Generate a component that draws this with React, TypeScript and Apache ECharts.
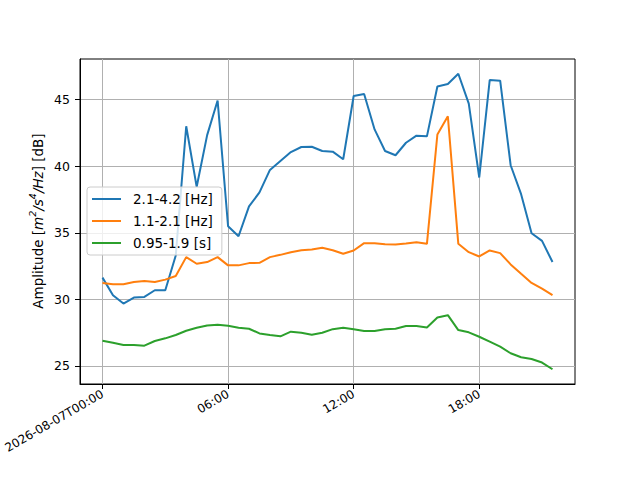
import React, { useEffect, useRef } from "react";
import * as echarts from "echarts";

// sample times (hours since 2026-08-07T00:00), every 30 min
const hours = [
  0, 0.5, 1, 1.5, 2, 2.5, 3, 3.5, 4, 4.5, 5, 5.5, 6, 6.5, 7, 7.5, 8, 8.5, 9, 9.5,
  10, 10.5, 11, 11.5, 12, 12.5, 13, 13.5, 14, 14.5, 15, 15.5, 16, 16.5, 17, 17.5,
  18, 18.5, 19, 19.5, 20, 20.5, 21, 21.5,
];

const seriesNames = ["2.1-4.2 [Hz]", "1.1-2.1 [Hz]", "0.95-1.9 [s]"];

const band1 = [
  31.63, 30.31, 29.68, 30.13, 30.18, 30.68, 30.68, 33.29, 43.0, 38.45, 42.33, 44.93,
  35.49, 34.74, 36.98, 38.03, 39.72, 40.39, 41.06, 41.44, 41.46, 41.14, 41.09, 40.52,
  45.27, 45.42, 42.76, 41.14, 40.82, 41.76, 42.29, 42.24, 45.99, 46.17, 46.94, 44.7,
  39.15, 46.47, 46.42, 40.07, 37.9, 34.96, 34.39, 32.8,
];

const band2 = [
  31.23, 31.13, 31.13, 31.3, 31.38, 31.3, 31.48, 31.75, 33.17, 32.67, 32.8, 33.17,
  32.55, 32.55, 32.72, 32.74, 33.17, 33.34, 33.54, 33.69, 33.74, 33.87, 33.69, 33.42,
  33.67, 34.22, 34.22, 34.14, 34.12, 34.19, 34.29, 34.17, 42.38, 43.75, 34.17, 33.54,
  33.22, 33.67, 33.47, 32.62, 31.92, 31.23, 30.8, 30.31,
];

const band3 = [
  26.89, 26.74, 26.57, 26.57, 26.52, 26.87, 27.07, 27.32, 27.64, 27.86, 28.04, 28.09,
  28.01, 27.86, 27.79, 27.44, 27.32, 27.22, 27.57, 27.49, 27.34, 27.49, 27.76, 27.86,
  27.76, 27.62, 27.62, 27.76, 27.79, 27.99, 27.99, 27.89, 28.64, 28.81, 27.69, 27.52,
  27.19, 26.82, 26.44, 25.95, 25.65, 25.52, 25.25, 24.75,
];

const xTicks = [0, 6, 12, 18];
const xTickLabels = ["2026-08-07T00:00", "06:00", "12:00", "18:00"];
const yTicks = [25, 30, 35, 40, 45];

const colors = ["#1f77b4", "#ff7f0e", "#2ca02c"];
const FONT = "DejaVu Sans";

export default function App() {
  const ref = useRef<HTMLDivElement>(null);

  useEffect(() => {
    if (!ref.current) return;
    const chart = echarts.init(ref.current, undefined, { renderer: "svg" });
    const allSeries = [band1, band2, band3];
    const option: any = {
      animation: false,
      textStyle: { fontFamily: FONT, color: "#000" },
      grid: {
        left: 80,
        top: 59,
        width: 495,
        height: 325,
        show: true,
        borderColor: "#000",
        borderWidth: 1,
        backgroundColor: "transparent",
      },
      xAxis: {
        type: "value",
        min: -1.075,
        max: 22.575,
        axisLine: { show: true, onZero: false, lineStyle: { color: "#000", width: 1 } },
        axisTick: {
          show: true,
          customValues: xTicks,
          length: 5,
          lineStyle: { color: "#000", width: 1 },
        },
        axisLabel: {
          customValues: xTicks,
          rotate: 30,
          margin: 9,
          fontSize: 12,
          color: "#000",
          fontFamily: FONT,
          formatter: (v: number) => {
            const i = xTicks.indexOf(Math.round(v));
            return i >= 0 ? xTickLabels[i] : "";
          },
        },
        splitLine: { show: true, lineStyle: { color: "#b0b0b0", width: 1 } },
      },
      yAxis: {
        type: "value",
        min: 23.64,
        max: 48.05,
        axisLine: { show: true, onZero: false, lineStyle: { color: "#000", width: 1 } },
        axisTick: {
          show: true,
          customValues: yTicks,
          length: 5,
          lineStyle: { color: "#000", width: 1 },
        },
        axisLabel: {
          customValues: yTicks,
          margin: 10,
          fontSize: 12.5,
          color: "#000",
          fontFamily: FONT,
          formatter: (v: number) => String(Math.round(v)),
        },
        splitLine: { show: true, lineStyle: { color: "#b0b0b0", width: 1 } },
      },
      legend: {
        orient: "vertical",
        left: 87,
        top: 187,
        padding: [5, 9, 5, 5],
        itemGap: 8,
        itemWidth: 29,
        itemHeight: 2,
        icon: "rect",
        selectedMode: false,
        backgroundColor: "rgba(255,255,255,0.8)",
        borderColor: "#cccccc",
        borderWidth: 1,
        borderRadius: 3,
        textStyle: {
          fontSize: 13.5,
          color: "#000",
          fontFamily: FONT,
          padding: [0, 0, 0, 7],
        },
        data: seriesNames,
      },
      graphic: [
        {
          type: "text",
          x: 36,
          y: 221,
          rotation: Math.PI / 2,
          style: {
            text:
              "{n|Amplitude [}{i|m}{s|2}{i|/s}{s|4}{i|/Hz}{n|] [dB]}",
            align: "center",
            verticalAlign: "middle",
            rich: {
              n: { fontSize: 13.5, fontFamily: FONT, fill: "#000", lineHeight: 17, verticalAlign: "bottom" },
              i: { fontSize: 13.5, fontFamily: FONT, fontStyle: "italic", fill: "#000", lineHeight: 17, verticalAlign: "bottom" },
              s: { fontSize: 9.5, fontFamily: FONT, fontStyle: "italic", fill: "#000", lineHeight: 17, verticalAlign: "top" },
            },
          },
        },
      ],
      series: allSeries.map((vals, k) => ({
        name: seriesNames[k],
        type: "line",
        data: hours.map((h, i) => [h, vals[i]]),
        showSymbol: false,
        symbol: "none",
        lineStyle: { color: colors[k], width: 2 },
        itemStyle: { color: colors[k] },
        z: 3 + k,
      })),
    };
    chart.setOption(option);
    return () => chart.dispose();
  }, []);

  return (
    <div
      ref={ref}
      style={{ position: "fixed", left: 0, top: 0, width: 640, height: 480, background: "#fff" }}
    />
  );
}
